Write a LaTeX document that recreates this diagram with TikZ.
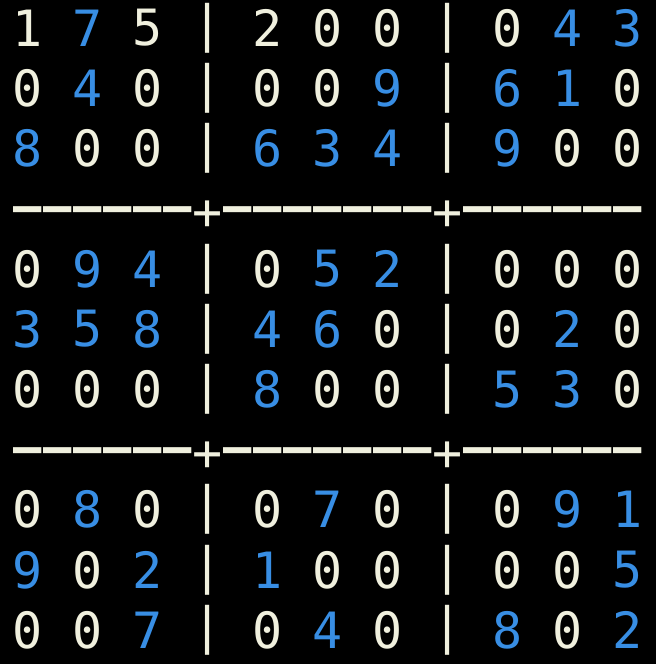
\documentclass[tikz,border=0pt]{standalone}
\usepackage{fontspec}
\setmonofont{DejaVu Sans Mono}
\definecolor{termwhite}{RGB}{240,240,222}
\definecolor{termblue}{RGB}{56,142,228}
\tikzset{
    glyph/.style={inner sep=0pt, anchor=center, font=\fontsize{25pt}{30pt}\selectfont\ttfamily},
    cellp/.style={glyph, text=termwhite},
    cellc/.style={glyph, text=termblue},
    rule/.style={glyph, text=termwhite},
    dashch/.style={rule, font=\fontsize{25pt}{30pt}\selectfont\ttfamily\bfseries,
        anchor=base, text height=8pt, text depth=0pt, xscale=0.94, yshift=-7.5pt},
    plusch/.style={rule, yshift=-3.5pt}
}
\begin{document}
\begin{tikzpicture}[x=15pt, y=-30.1pt]
    \fill[black] (-14pt,14pt) rectangle (314pt,-318pt);
    % digits, p = plain (white), c = clue (blue)
    \foreach \row [count=\r from 0] in {
        {1/p,7/c,5/p,2/p,0/p,0/p,0/p,4/c,3/c},
        {0/p,4/c,0/p,0/p,0/p,9/c,6/c,1/c,0/p},
        {8/c,0/p,0/p,6/c,3/c,4/c,9/c,0/p,0/p},
        {0/p,9/c,4/c,0/p,5/c,2/c,0/p,0/p,0/p},
        {3/c,5/c,8/c,4/c,6/c,0/p,0/p,2/c,0/p},
        {0/p,0/p,0/p,8/c,0/p,0/p,5/c,3/c,0/p},
        {0/p,8/c,0/p,0/p,7/c,0/p,0/p,9/c,1/c},
        {9/c,0/p,2/c,1/c,0/p,0/p,0/p,0/p,5/c},
        {0/p,0/p,7/c,0/p,4/c,0/p,8/c,0/p,2/c}} {
        \pgfmathtruncatemacro\j{\r+int(\r/3)}
        \foreach \d/\s [count=\c from 0] in \row {
            \pgfmathtruncatemacro\i{2*\c+2*int(\c/3)}
            \node[cell\s] (d-\r-\c) at (\i,\j) {\d};
        }
        % column bars
        \node[rule] (bar-\r-a) at (6,\j) {|};
        \node[rule] (bar-\r-b) at (14,\j) {|};
    }
    % separator lines
    \foreach \j in {3,7} {
        \foreach \i in {0,...,20} {
            \ifnum\i=6 \def\st{plusch}\def\ch{+}\else
            \ifnum\i=14 \def\st{plusch}\def\ch{+}\else
            \def\st{dashch}\def\ch{—}\fi\fi
            \node[\st] (sep-\j-\i) at (\i,\j) {\ch};
        }
    }
\end{tikzpicture}
\end{document}
